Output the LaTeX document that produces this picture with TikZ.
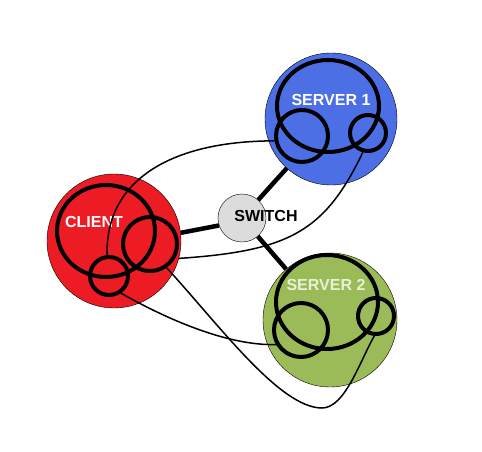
\documentclass[tikz,border=0pt]{standalone}
\usepackage{fontspec}
\setmainfont{Liberation Sans}
\usetikzlibrary{shapes.geometric}
\definecolor{clientred}{RGB}{237,28,36}
\definecolor{serverblue}{RGB}{77,111,230}
\definecolor{servergreen}{RGB}{155,187,89}
\definecolor{switchgray}{RGB}{220,220,220}
\definecolor{palegreen}{RGB}{232,240,215}

\begin{document}
\begin{tikzpicture}[x=1pt,y=1pt,
  host/.style={circle,draw,thin,inner sep=0pt},
  coil/.style={circle,draw,line width=4pt,inner sep=0pt},
  bigcoil/.style={ellipse,draw,line width=4pt,inner sep=0pt},
  tag/.style={font=\bfseries\fontsize{16}{19}\selectfont,text=white},
  trunk/.style={line width=4.5pt},
  wire/.style={line width=1.5pt}]
%\tikzstyle{every node}=[draw=red]
\useasboundingbox (0,0) rectangle (482,451);

  \node[host,fill=clientred,minimum size=134pt]   (cl) at (114,210) {};
  \node[host,fill=serverblue,minimum size=132pt]  (s1) at (331,332) {};
  \node[host,fill=servergreen,minimum size=134pt] (s2) at (330,131) {};
  \node[host,fill=switchgray,minimum size=48pt]   (sw) at (242,233) {};

  % loops inside the hosts
  \node[bigcoil,minimum width=98pt,minimum height=92pt]  (clBig) at (106,220) {};
  \node[coil,minimum size=54pt]                          (clR)   at (150,207) {};
  \node[coil,minimum size=38pt]                          (clB)   at (109,175) {};
  \node[bigcoil,minimum width=102pt,minimum height=92pt] (s1Big) at (328,345) {};
  \node[coil,minimum size=52pt]                          (s1L)   at (302,315) {};
  \node[coil,minimum size=36pt]                          (s1R)   at (368,318) {};
  \node[bigcoil,minimum width=102pt,minimum height=94pt] (s2Big) at (327,149) {};
  \node[coil,minimum size=54pt]                          (s2L)   at (301,121) {};
  \node[coil,minimum size=36pt]                          (s2R)   at (376,135) {};

  \node[tag]                 (clTag) at (94,229)  {CLIENT};
  \node[tag]                 (s1Tag) at (331,351) {SERVER 1};
  \node[tag,text=palegreen]  (s2Tag) at (326,166) {SERVER 2};
  \node[tag,text=black]      (swTag) at (266,235) {SWITCH};

  \draw[trunk] (cl.7) -- (sw.198);
  \draw[trunk] (sw) -- (s1);
  \draw[trunk] (sw) -- (s2);

  \draw[wire] (cl.-15) .. controls (290,200) and (325,220) .. (s1R.255);
  \draw[wire] (clB.95) .. controls (105,270) and (170,310) .. (s1L.190);
  \draw[wire] (clB.-55) .. controls (170,130) and (230,105) .. (s2L.210);
  \draw[wire] (clR.-55) .. controls (220,125) and (280,43) .. (322,43)
                        .. controls (345,43) and (360,90) .. (s2R.265);
\end{tikzpicture}
\end{document}
